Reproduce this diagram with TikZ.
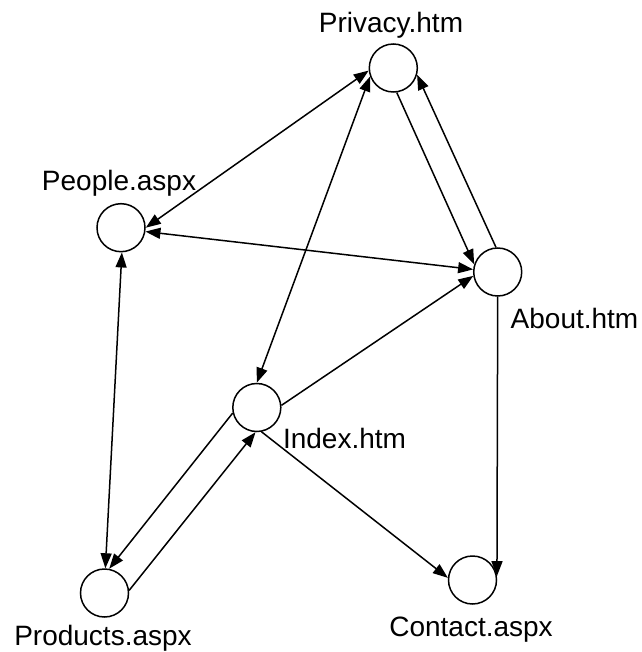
\documentclass[tikz,border=0pt]{standalone}
\usepackage{fontspec}
\setmainfont{Liberation Sans}
\usetikzlibrary{arrows.meta}
\begin{document}
\begin{tikzpicture}[x=1pt,y=-1pt,
  page/.style={circle,draw,line width=1.5pt,minimum size=48pt,inner sep=0pt},
  lbl/.style={anchor=base,font=\fontsize{28}{30}\selectfont,inner sep=0pt},
  link/.style={line width=1.5pt,-{Triangle[length=15pt,width=11pt]}},
  blink/.style={line width=1.5pt,{Triangle[length=15pt,width=11pt]}-{Triangle[length=15pt,width=11pt]}}]
\useasboundingbox (0,0) rectangle (641,652);
\node[page] (pri) at (393.3,68) {};
\node[page] (peo) at (121,227.7) {};
\node[page] (abo) at (497.7,272) {};
\node[page] (ind) at (256.8,407.5) {};
\node[page] (pro) at (104.5,593) {};
\node[page] (con) at (472.5,580) {};
\node[lbl] (lpri) at (391,33) {Privacy.htm};
\node[lbl] (lpeo) at (119,191) {People.aspx};
\node[lbl] (labo) at (574.5,328.5) {About.htm};
\node[lbl] (lind) at (344.5,448) {Index.htm};
\node[lbl] (lpro) at (103,645) {Products.aspx};
\node[lbl] (lcon) at (471,636) {Contact.aspx};
\draw[blink] (peo.0) -- (pri.186);
\draw[blink] (peo.-9) -- (abo.174);
\draw[link] (pri.278) -- (abo.162);
\draw[link] (abo.94) -- (pri.-16);
\draw[blink] (pri.200) -- (ind.90);
\draw[link] (ind.5) -- (abo.189);
\draw[link] (ind.193) -- (pro.79);
\draw[link] (pro.6) -- (ind.-93);
\draw[blink] (peo.-88) -- (pro.88);
\draw[link] (ind.-79) -- (con.175);
\draw[link] (abo.270) -- (con.9);
\end{tikzpicture}
\end{document}
